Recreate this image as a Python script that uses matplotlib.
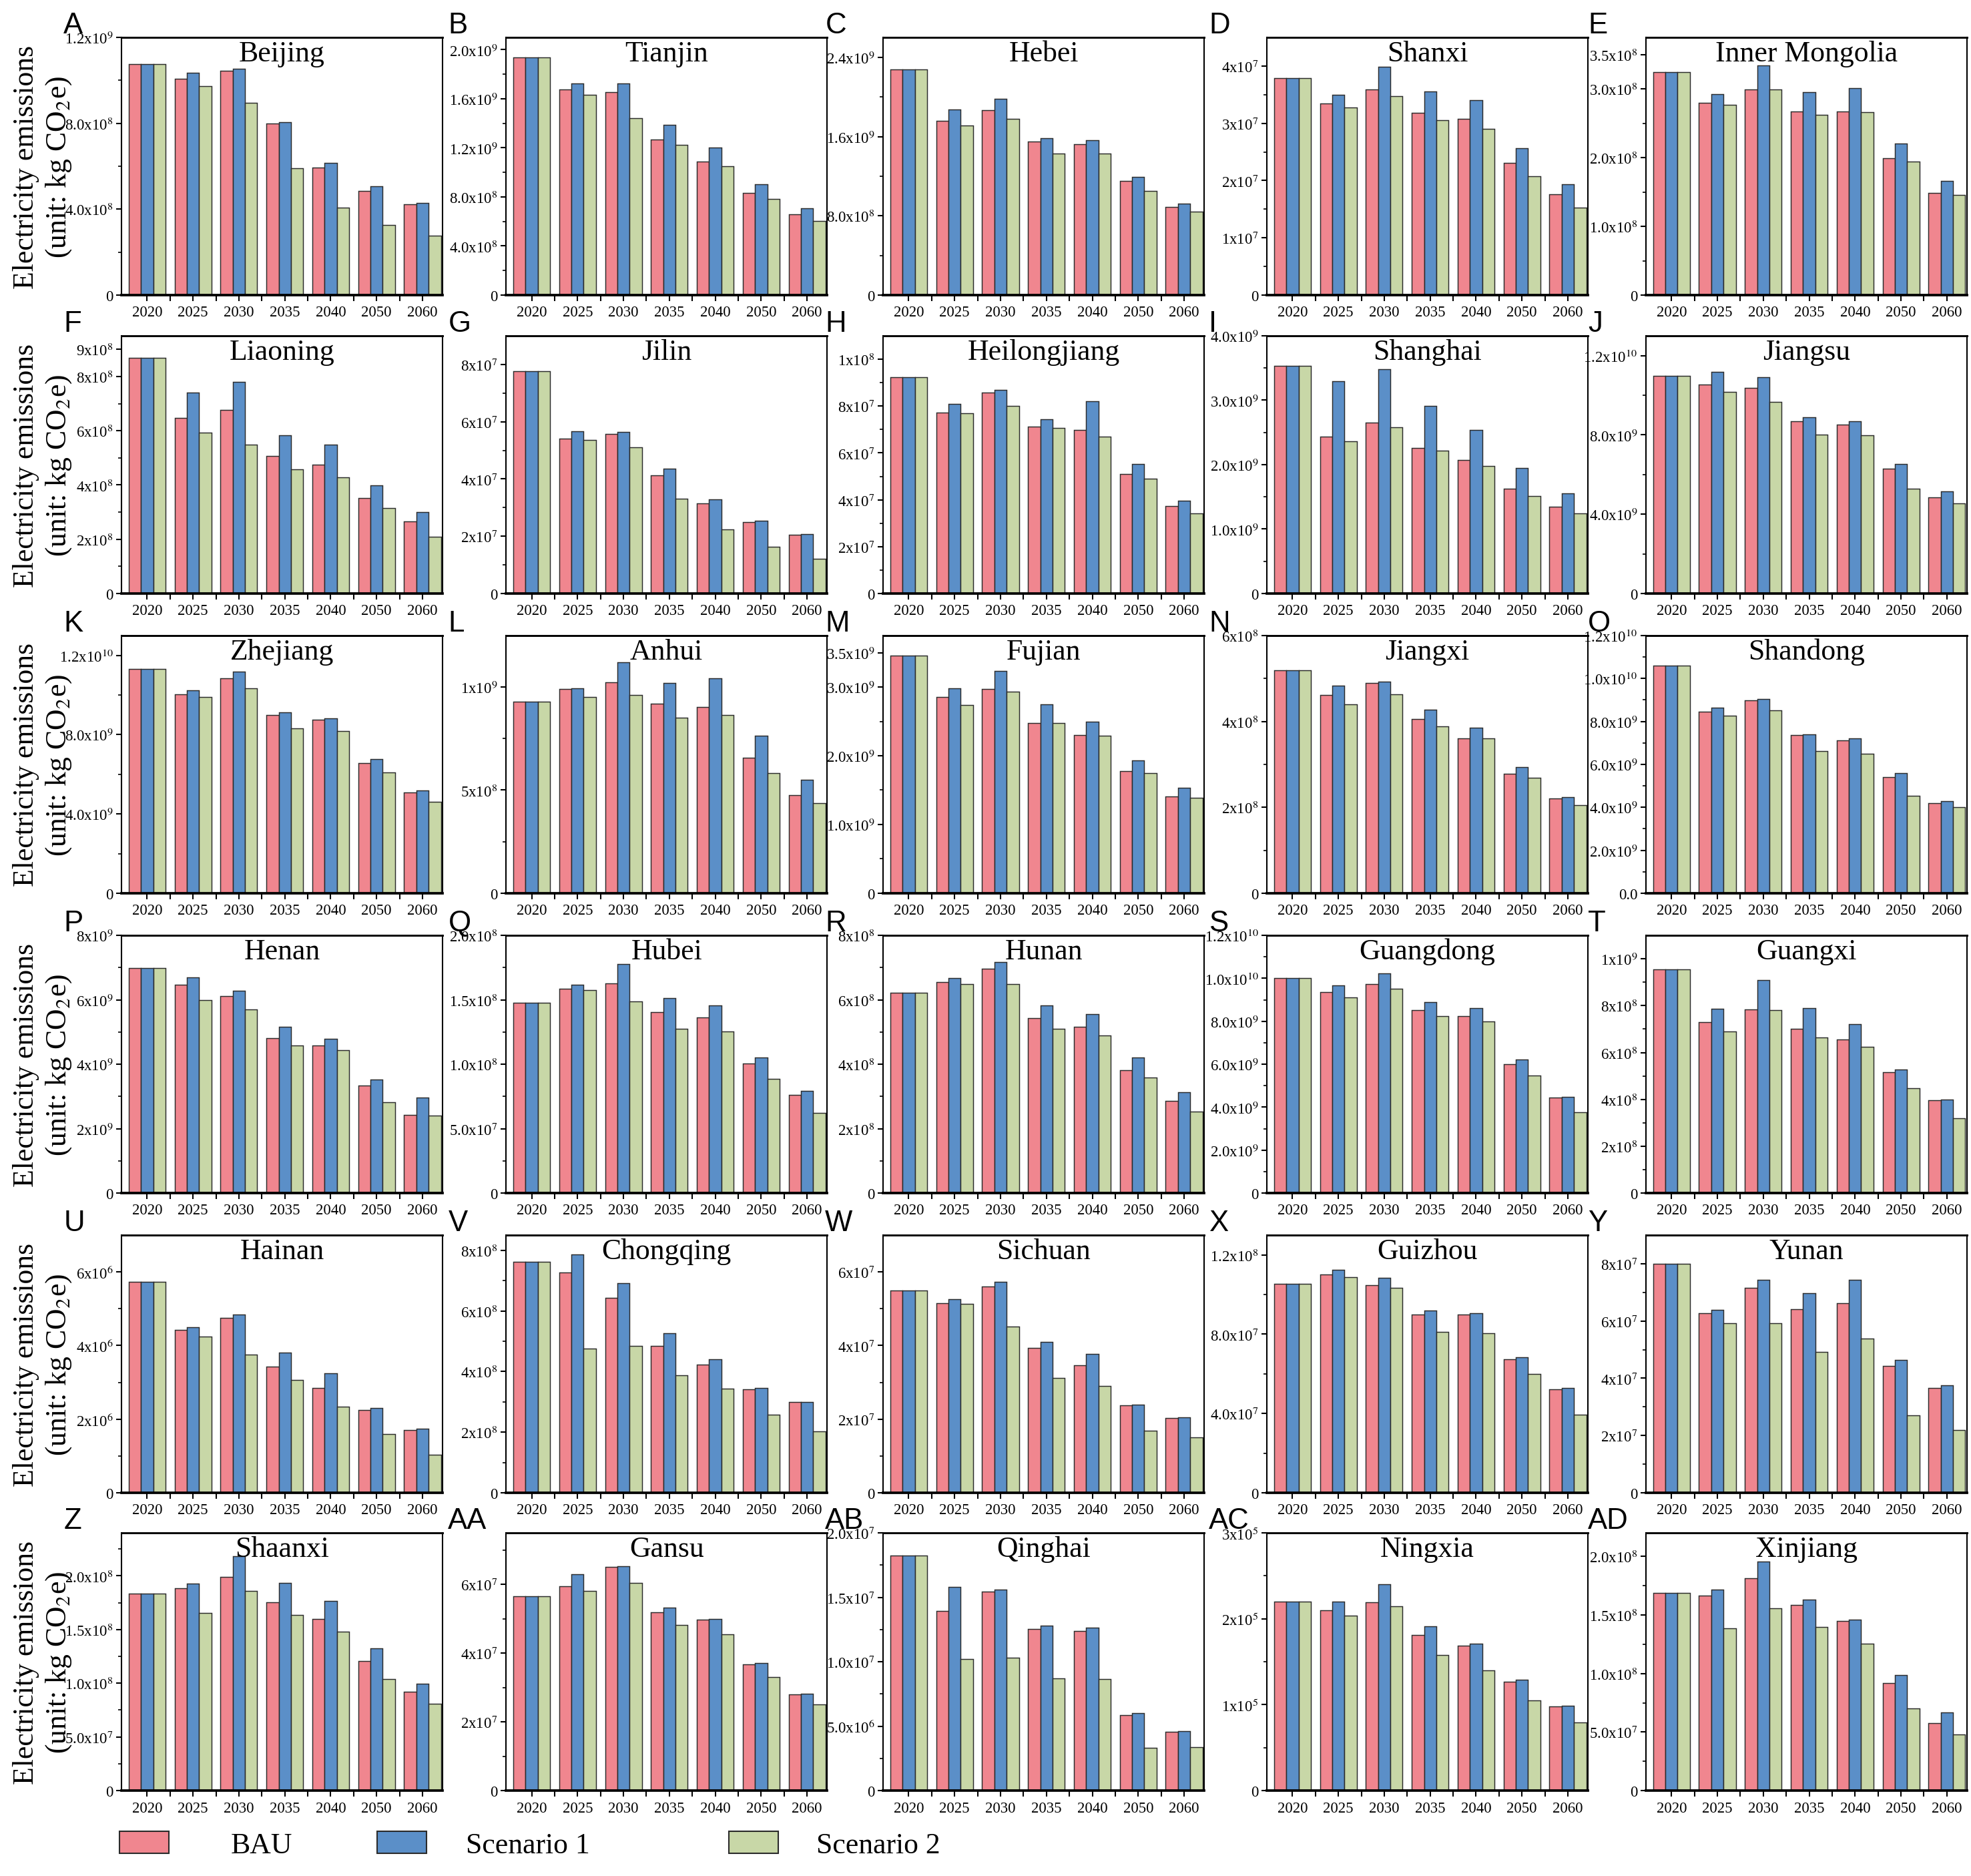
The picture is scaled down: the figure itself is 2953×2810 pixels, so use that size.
import numpy as np
import matplotlib
matplotlib.use('Agg')
import matplotlib.pyplot as plt
from matplotlib.patches import Patch

plt.rcParams['font.family'] = ['Liberation Serif', 'DejaVu Serif']
plt.rcParams['mathtext.fontset'] = 'stix'

# ---------------- data ----------------
YEARS = ['2020', '2025', '2030', '2035', '2040', '2050', '2060']
SCENARIOS = ['BAU', 'Scenario 1', 'Scenario 2']

PROVINCES = ['Beijing', 'Tianjin', 'Hebei', 'Shanxi', 'Inner Mongolia',
             'Liaoning', 'Jilin', 'Heilongjiang', 'Shanghai', 'Jiangsu',
             'Zhejiang', 'Anhui', 'Fujian', 'Jiangxi', 'Shandong',
             'Henan', 'Hubei', 'Hunan', 'Guangdong', 'Guangxi',
             'Hainan', 'Chongqing', 'Sichuan', 'Guizhou', 'Yunan',
             'Shaanxi', 'Gansu', 'Qinghai', 'Ningxia', 'Xinjiang']
LETTERS = ['A', 'B', 'C', 'D', 'E', 'F', 'G', 'H', 'I', 'J',
           'K', 'L', 'M', 'N', 'O', 'P', 'Q', 'R', 'S', 'T',
           'U', 'V', 'W', 'X', 'Y', 'Z', 'AA', 'AB', 'AC', 'AD']

# unit of every panel (kg CO2e); the series below are given in these units
UNIT = [1e8, 1e8, 1e8, 1e7, 1e8,
        1e8, 1e7, 1e7, 1e9, 1e9,
        1e9, 1e8, 1e9, 1e8, 1e9,
        1e9, 1e7, 1e8, 1e9, 1e8,
        1e6, 1e8, 1e7, 1e7, 1e7,
        1e7, 1e7, 1e6, 1e5, 1e7]

BAU = [
    [10.76, 10.08, 10.45, 7.99, 5.94, 4.85, 4.23],
    [19.35, 16.75, 16.55, 12.70, 10.89, 8.31, 6.57],
    [22.76, 17.56, 18.63, 15.52, 15.20, 11.52, 8.90],
    [3.79, 3.35, 3.59, 3.18, 3.08, 2.31, 1.76],
    [3.25, 2.80, 2.99, 2.67, 2.67, 1.99, 1.49],
    [8.69, 6.47, 6.76, 5.06, 4.75, 3.51, 2.65],
    [7.76, 5.40, 5.57, 4.13, 3.15, 2.49, 2.06],
    [9.24, 7.73, 8.58, 7.11, 6.99, 5.09, 3.72],
    [3.53, 2.44, 2.65, 2.26, 2.07, 1.63, 1.35],
    [10.99, 10.55, 10.37, 8.70, 8.53, 6.31, 4.85],
    [11.30, 10.03, 10.84, 8.99, 8.76, 6.56, 5.09],
    [9.29, 9.90, 10.23, 9.20, 9.02, 6.57, 4.76],
    [3.46, 2.86, 2.97, 2.48, 2.30, 1.78, 1.41],
    [5.19, 4.61, 4.90, 4.06, 3.61, 2.78, 2.20],
    [10.61, 8.45, 8.98, 7.36, 7.11, 5.42, 4.20],
    [6.99, 6.47, 6.12, 4.82, 4.59, 3.33, 2.43],
    [14.75, 15.84, 16.26, 14.03, 13.62, 10.06, 7.64],
    [6.23, 6.56, 6.97, 5.43, 5.17, 3.81, 2.87],
    [10.00, 9.37, 9.72, 8.51, 8.23, 6.01, 4.46],
    [9.55, 7.30, 7.83, 7.02, 6.57, 5.15, 3.97],
    [5.73, 4.43, 4.76, 3.42, 2.84, 2.25, 1.71],
    [7.62, 7.26, 6.44, 4.84, 4.23, 3.41, 2.99],
    [5.50, 5.15, 5.60, 3.93, 3.46, 2.38, 2.03],
    [10.55, 11.00, 10.47, 9.01, 8.99, 6.74, 5.23],
    [8.00, 6.27, 7.15, 6.42, 6.62, 4.44, 3.66],
    [18.38, 18.82, 19.91, 17.53, 16.00, 12.04, 9.23],
    [5.65, 5.94, 6.52, 5.19, 4.97, 3.68, 2.80],
    [18.22, 13.94, 15.47, 12.56, 12.41, 5.88, 4.55],
    [2.20, 2.10, 2.19, 1.81, 1.69, 1.27, 0.98],
    [16.89, 16.63, 18.13, 15.87, 14.46, 9.19, 5.76],
]

SCEN1 = [
    [10.76, 10.36, 10.54, 8.06, 6.17, 5.06, 4.30],
    [19.35, 17.24, 17.24, 13.90, 12.03, 9.04, 7.08],
    [22.76, 18.70, 19.80, 15.83, 15.65, 11.95, 9.26],
    [3.79, 3.50, 3.99, 3.56, 3.41, 2.56, 1.94],
    [3.25, 2.92, 3.34, 2.95, 3.01, 2.21, 1.66],
    [8.69, 7.42, 7.81, 5.83, 5.49, 3.98, 2.99],
    [7.76, 5.67, 5.65, 4.35, 3.29, 2.54, 2.07],
    [9.24, 8.09, 8.69, 7.45, 8.22, 5.52, 3.96],
    [3.53, 3.30, 3.48, 2.91, 2.54, 1.95, 1.55],
    [10.99, 11.19, 10.91, 8.88, 8.70, 6.54, 5.15],
    [11.30, 10.25, 11.19, 9.13, 8.83, 6.76, 5.19],
    [9.29, 9.94, 11.19, 10.19, 10.42, 7.63, 5.51],
    [3.46, 2.98, 3.23, 2.75, 2.50, 1.93, 1.53],
    [5.19, 4.84, 4.92, 4.28, 3.85, 2.94, 2.24],
    [10.61, 8.64, 9.03, 7.39, 7.22, 5.59, 4.29],
    [6.99, 6.69, 6.29, 5.17, 4.79, 3.52, 2.96],
    [14.75, 16.15, 17.76, 15.15, 14.58, 10.53, 7.94],
    [6.23, 6.67, 7.18, 5.82, 5.55, 4.20, 3.14],
    [10.00, 9.68, 10.22, 8.90, 8.60, 6.23, 4.48],
    [9.55, 7.88, 9.08, 7.89, 7.21, 5.27, 3.99],
    [5.73, 4.49, 4.85, 3.81, 3.25, 2.30, 1.75],
    [7.62, 7.87, 6.91, 5.26, 4.41, 3.46, 3.00],
    [5.50, 5.26, 5.73, 4.09, 3.77, 2.40, 2.05],
    [10.55, 11.26, 10.83, 9.21, 9.07, 6.84, 5.28],
    [8.00, 6.38, 7.43, 6.98, 7.45, 4.63, 3.76],
    [18.38, 19.26, 21.82, 19.32, 17.66, 13.24, 9.93],
    [5.65, 6.29, 6.53, 5.32, 5.00, 3.71, 2.81],
    [18.22, 15.83, 15.61, 12.83, 12.63, 6.01, 4.62],
    [2.20, 2.20, 2.40, 1.91, 1.71, 1.29, 0.99],
    [16.89, 17.17, 19.56, 16.29, 14.58, 9.87, 6.66],
]

SCEN2 = [
    [10.76, 9.72, 8.97, 5.91, 4.06, 3.28, 2.78],
    [19.35, 16.30, 14.43, 12.27, 10.51, 7.84, 6.03],
    [22.76, 17.09, 17.80, 14.30, 14.26, 10.49, 8.39],
    [3.79, 3.28, 3.48, 3.06, 2.90, 2.07, 1.53],
    [3.25, 2.77, 2.99, 2.62, 2.66, 1.94, 1.46],
    [8.69, 5.92, 5.49, 4.57, 4.28, 3.14, 2.10],
    [7.76, 5.36, 5.11, 3.32, 2.24, 1.64, 1.21],
    [9.24, 7.68, 8.02, 7.08, 6.71, 4.89, 3.42],
    [3.53, 2.36, 2.58, 2.22, 1.98, 1.51, 1.24],
    [10.99, 10.17, 9.66, 8.01, 7.98, 5.30, 4.55],
    [11.30, 9.91, 10.33, 8.30, 8.18, 6.08, 4.61],
    [9.29, 9.52, 9.63, 8.52, 8.64, 5.82, 4.37],
    [3.46, 2.74, 2.93, 2.48, 2.29, 1.75, 1.39],
    [5.19, 4.40, 4.63, 3.88, 3.60, 2.69, 2.05],
    [10.61, 8.28, 8.50, 6.61, 6.49, 4.53, 4.02],
    [6.99, 6.00, 5.70, 4.58, 4.44, 2.82, 2.41],
    [14.75, 15.74, 14.87, 12.73, 12.53, 8.89, 6.20],
    [6.23, 6.49, 6.48, 5.11, 4.89, 3.58, 2.53],
    [10.00, 9.12, 9.53, 8.24, 8.00, 5.46, 3.75],
    [9.55, 6.89, 7.80, 6.63, 6.25, 4.49, 3.20],
    [5.73, 4.25, 3.76, 3.06, 2.34, 1.60, 1.03],
    [7.62, 4.76, 4.84, 3.87, 3.43, 2.57, 2.03],
    [5.50, 5.13, 4.51, 3.12, 2.90, 1.69, 1.51],
    [10.55, 10.89, 10.35, 8.13, 8.05, 6.00, 3.94],
    [8.00, 5.92, 5.93, 4.91, 5.39, 2.70, 2.19],
    [18.38, 16.52, 18.58, 16.35, 14.81, 10.42, 8.07],
    [5.65, 5.81, 6.04, 4.83, 4.54, 3.31, 2.50],
    [18.22, 10.19, 10.30, 8.70, 8.68, 3.31, 3.35],
    [2.20, 2.04, 2.15, 1.58, 1.40, 1.05, 0.79],
    [16.89, 13.84, 15.59, 13.98, 12.56, 7.02, 4.79],
]

# y axis top and major ticks, in the panel unit
YMAX = [12, 21, 26, 4.5, 3.75,
        9.5, 9, 11, 4.0, 13,
        13, 12.5, 3.75, 6, 12,
        8, 20, 8, 12, 11,
        7, 8.5, 7, 13, 9,
        24, 7.5, 20, 3, 22]

YTICKS = [
    [0, 4, 8, 12], [0, 4, 8, 12, 16, 20], [0, 8, 16, 24], [0, 1, 2, 3, 4], [0, 1, 2, 3, 3.5],
    [0, 2, 4, 6, 8, 9], [0, 2, 4, 6, 8], [0, 2, 4, 6, 8, 10], [0, 1, 2, 3, 4], [0, 4, 8, 12],
    [0, 4, 8, 12], [0, 5, 10], [0, 1, 2, 3, 3.5], [0, 2, 4, 6], [0, 2, 4, 6, 8, 10, 12],
    [0, 2, 4, 6, 8], [0, 5, 10, 15, 20], [0, 2, 4, 6, 8], [0, 2, 4, 6, 8, 10, 12], [0, 2, 4, 6, 8, 10],
    [0, 2, 4, 6], [0, 2, 4, 6, 8], [0, 2, 4, 6], [0, 4, 8, 12], [0, 2, 4, 6, 8],
    [0, 5, 10, 15, 20], [0, 2, 4, 6], [0, 5, 10, 15, 20], [0, 1, 2, 3], [0, 5, 10, 15, 20],
]

YTICKLABELS = [
    ['0', '4.0x10$^{8}$', '8.0x10$^{8}$', '1.2x10$^{9}$'],
    ['0', '4.0x10$^{8}$', '8.0x10$^{8}$', '1.2x10$^{9}$', '1.6x10$^{9}$', '2.0x10$^{9}$'],
    ['0', '8.0x10$^{8}$', '1.6x10$^{9}$', '2.4x10$^{9}$'],
    ['0', '1x10$^{7}$', '2x10$^{7}$', '3x10$^{7}$', '4x10$^{7}$'],
    ['0', '1.0x10$^{8}$', '2.0x10$^{8}$', '3.0x10$^{8}$', '3.5x10$^{8}$'],
    ['0', '2x10$^{8}$', '4x10$^{8}$', '6x10$^{8}$', '8x10$^{8}$', '9x10$^{8}$'],
    ['0', '2x10$^{7}$', '4x10$^{7}$', '6x10$^{7}$', '8x10$^{7}$'],
    ['0', '2x10$^{7}$', '4x10$^{7}$', '6x10$^{7}$', '8x10$^{7}$', '1x10$^{8}$'],
    ['0', '1.0x10$^{9}$', '2.0x10$^{9}$', '3.0x10$^{9}$', '4.0x10$^{9}$'],
    ['0', '4.0x10$^{9}$', '8.0x10$^{9}$', '1.2x10$^{10}$'],
    ['0', '4.0x10$^{9}$', '8.0x10$^{9}$', '1.2x10$^{10}$'],
    ['0', '5x10$^{8}$', '1x10$^{9}$'],
    ['0', '1.0x10$^{9}$', '2.0x10$^{9}$', '3.0x10$^{9}$', '3.5x10$^{9}$'],
    ['0', '2x10$^{8}$', '4x10$^{8}$', '6x10$^{8}$'],
    ['0.0', '2.0x10$^{9}$', '4.0x10$^{9}$', '6.0x10$^{9}$', '8.0x10$^{9}$', '1.0x10$^{10}$', '1.2x10$^{10}$'],
    ['0', '2x10$^{9}$', '4x10$^{9}$', '6x10$^{9}$', '8x10$^{9}$'],
    ['0', '5.0x10$^{7}$', '1.0x10$^{8}$', '1.5x10$^{8}$', '2.0x10$^{8}$'],
    ['0', '2x10$^{8}$', '4x10$^{8}$', '6x10$^{8}$', '8x10$^{8}$'],
    ['0', '2.0x10$^{9}$', '4.0x10$^{9}$', '6.0x10$^{9}$', '8.0x10$^{9}$', '1.0x10$^{10}$', '1.2x10$^{10}$'],
    ['0', '2x10$^{8}$', '4x10$^{8}$', '6x10$^{8}$', '8x10$^{8}$', '1x10$^{9}$'],
    ['0', '2x10$^{6}$', '4x10$^{6}$', '6x10$^{6}$'],
    ['0', '2x10$^{8}$', '4x10$^{8}$', '6x10$^{8}$', '8x10$^{8}$'],
    ['0', '2x10$^{7}$', '4x10$^{7}$', '6x10$^{7}$'],
    ['0', '4.0x10$^{7}$', '8.0x10$^{7}$', '1.2x10$^{8}$'],
    ['0', '2x10$^{7}$', '4x10$^{7}$', '6x10$^{7}$', '8x10$^{7}$'],
    ['0', '5.0x10$^{7}$', '1.0x10$^{8}$', '1.5x10$^{8}$', '2.0x10$^{8}$'],
    ['0', '2x10$^{7}$', '4x10$^{7}$', '6x10$^{7}$'],
    ['0', '5.0x10$^{6}$', '1.0x10$^{7}$', '1.5x10$^{7}$', '2.0x10$^{7}$'],
    ['0', '1x10$^{5}$', '2x10$^{5}$', '3x10$^{5}$'],
    ['0', '5.0x10$^{7}$', '1.0x10$^{8}$', '1.5x10$^{8}$', '2.0x10$^{8}$'],
]

COLORS = ['#F0868F', '#5B8FC8', '#C8D7A7']
EDGE = '#2b2b2b'

# ---------------- layout ----------------
fig = plt.figure(figsize=(2953 / 300, 2811 / 300), dpi=300)
lefts = [0.0616, 0.2567, 0.448, 0.6427, 0.835]
bottoms = [0.8424, 0.6834, 0.5237, 0.3639, 0.2042, 0.0455]
w, h = 0.163, 0.1373

x = np.arange(len(YEARS))
bw = 0.267

for i, name in enumerate(PROVINCES):
    r, c = divmod(i, 5)
    ax = fig.add_axes([lefts[c], bottoms[r], w, h])

    for k, series in enumerate([BAU, SCEN1, SCEN2]):
        ax.bar(x + (k - 1) * bw, series[i], bw, color=COLORS[k],
               edgecolor=EDGE, linewidth=0.35, zorder=2)

    ax.set_xlim(-0.56, 6.44)
    ax.set_ylim(0, YMAX[i])

    ax.set_xticks(x)
    ax.set_xticklabels(YEARS, fontsize=5.5)
    ax.set_xticks(x[:-1] + 0.5, minor=True)

    ticks = YTICKS[i]
    ax.set_yticks(ticks)
    ax.set_yticklabels(YTICKLABELS[i], fontsize=5.5)
    step = ticks[1] - ticks[0]
    minors = [m for m in np.arange(step / 2, YMAX[i] - 1e-6, step)
              if min(abs(m - t) for t in ticks) > 1e-6]
    ax.set_yticks(minors, minor=True)

    ax.tick_params(axis='x', which='both', direction='out', length=2.2, width=0.5, pad=1.5)
    ax.tick_params(axis='y', which='major', direction='out', length=2.0, width=0.5, pad=1)
    ax.tick_params(axis='y', which='minor', direction='out', length=1.2, width=0.4)

    for s in ['left', 'right']:
        ax.spines[s].set_linewidth(0.5)
    ax.spines['top'].set_linewidth(0.7)
    ax.spines['bottom'].set_linewidth(0.9)

    ax.text(0.5, 0.99, name, transform=ax.transAxes, ha='center', va='top', fontsize=10.5)
    ax.text(-0.18, 1.018, LETTERS[i], transform=ax.transAxes, ha='left', va='baseline',
            fontsize=10.5, family='Liberation Sans')

    if c == 0:
        pos = ax.get_position()
        fig.text(0.0218, (pos.y0 + pos.y1) / 2,
                 'Electricity emissions\n(unit: kg CO$_2$e)',
                 rotation=90, ha='center', va='center', fontsize=10.5,
                 linespacing=1.2, multialignment='center')

# legend: one entry per block, placed like the original
legend_x = [0.0606, 0.1913, 0.3698]
text_pad = [2.1, 1.35, 1.3]
for k in range(3):
    handle = Patch(facecolor=COLORS[k], edgecolor=EDGE, linewidth=0.5)
    fig.legend([handle], [SCENARIOS[k]], loc='center left',
               bbox_to_anchor=(legend_x[k], 0.0167), frameon=False,
               fontsize=10.5, borderpad=0, borderaxespad=0, handlelength=1.7,
               handleheight=0.8, handletextpad=text_pad[k])

fig.savefig('out.png', dpi=300)
